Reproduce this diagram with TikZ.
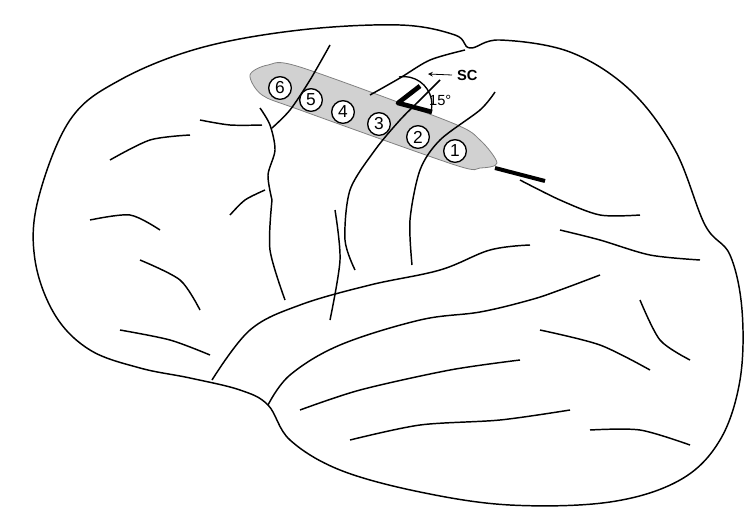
\documentclass[tikz,border=0pt]{standalone}
\usepackage{fontspec}
\setmainfont{Liberation Sans}
\begin{document}
\begin{tikzpicture}[x=0.75pt,y=-0.75pt,line width=1.1pt,line join=round,
  sul/.style={line width=1.1pt},
  num/.style={circle,draw,line width=1pt,fill=white,inner sep=0pt,minimum size=17pt,font=\fontsize{13}{13}\selectfont}]
\useasboundingbox (0,0) rectangle (749,518);
% electrode strip (under sulci)
\draw[line width=3pt] (495,168) -- (545,181);
\draw[gray,line width=0.6pt,fill=black!18] plot[smooth cycle,tension=0.5] coordinates {(250,75) (268,65) (300,67) (450,122) (480,140) (497,163) (480,168) (455,165) (300,110) (262,95)};
% outline
\draw plot[smooth cycle,tension=0.6] coordinates {(38,200) (70,120) (120,80) (200,48) (300,30) (400,25) (455,35) (470,48) (500,40) (570,52) (630,90) (675,150) (705,225) (730,255) (742,310) (740,380) (720,440) (680,480) (610,502) (510,505) (420,492) (340,470) (290,440) (268,405) (240,390) (190,378) (140,368) (90,350) (55,315) (35,260)};
% sylvian / temporal upper edge
\draw plot[smooth,tension=0.6] coordinates {(212,380) (250,330) (300,305) (370,285) (440,270) (490,250) (530,245)};
\draw plot[smooth,tension=0.6] coordinates {(268,405) (290,375) (340,345) (420,320) (480,312) (530,300) (560,290) (600,275)};
% sulci
\draw[sul] plot[smooth] coordinates {(440,80) (420,100) (400,120) (375,150) (350,190) (345,240) (355,270)};
\draw[sul] plot[smooth] coordinates {(495,92) (480,110) (440,140) (420,170) (410,220) (412,265)};
\draw[sul] plot[smooth] coordinates {(330,45) (310,80) (290,110) (272,128)};
\draw[sul] plot[smooth] coordinates {(260,108) (270,125) (275,150) (268,175) (272,200)};
\draw[sul] plot[smooth] coordinates {(200,120) (230,125) (262,125)};
\draw[sul] plot[smooth] coordinates {(265,190) (245,200) (230,215)};
\draw[sul] plot[smooth] coordinates {(272,200) (270,250) (285,300)};
\draw[sul] plot[smooth] coordinates {(120,330) (170,340) (210,355)};
\draw[sul] plot[smooth] coordinates {(140,260) (180,280) (200,310)};
\draw[sul] plot[smooth] coordinates {(330,320) (340,260) (335,210)};
\draw[sul] plot[smooth] coordinates {(465,50) (430,60) (400,78) (370,95)};
\draw[sul] plot[smooth] coordinates {(520,180) (560,200) (600,215) (640,215)};
\draw[sul] plot[smooth] coordinates {(560,230) (600,240) (650,255) (700,260)};
\draw[sul] plot[smooth] coordinates {(640,300) (660,340) (690,360)};
\draw[sul] plot[smooth] coordinates {(300,410) (360,390) (450,370) (520,360)};
\draw[sul] plot[smooth] coordinates {(350,440) (420,425) (500,420) (570,410)};
\draw[sul] plot[smooth] coordinates {(540,330) (600,345) (650,370)};
\draw[sul] plot[smooth] coordinates {(590,430) (640,430) (690,445)};
\draw[sul] plot[smooth] coordinates {(110,160) (150,140) (190,135)};
\draw[sul] plot[smooth] coordinates {(90,220) (130,215) (160,230)};
\node[num] (n6) at (280,88) {6};
\node[num] (n5) at (311,100) {5};
\node[num] (n4) at (343,112) {4};
\node[num] (n3) at (379,124) {3};
\node[num] (n2) at (418,137) {2};
\node[num] (n1) at (455,151) {1};
% angle
\draw[line width=3.5pt] (420,86) -- (398,103) -- (432,112);
\draw[line width=1pt] (399,77) arc[start angle=-100,end angle=20,radius=28];
\node[font=\bfseries\fontsize{11}{11}\selectfont,anchor=west] (sc) at (452,75) {SC};
\draw[->,line width=0.6pt,>=stealth] (sc.west) -- (428,74);
\node[font=\fontsize{11}{11}\selectfont,anchor=west] (deg) at (424,100) {15°};
\end{tikzpicture}
\end{document}
